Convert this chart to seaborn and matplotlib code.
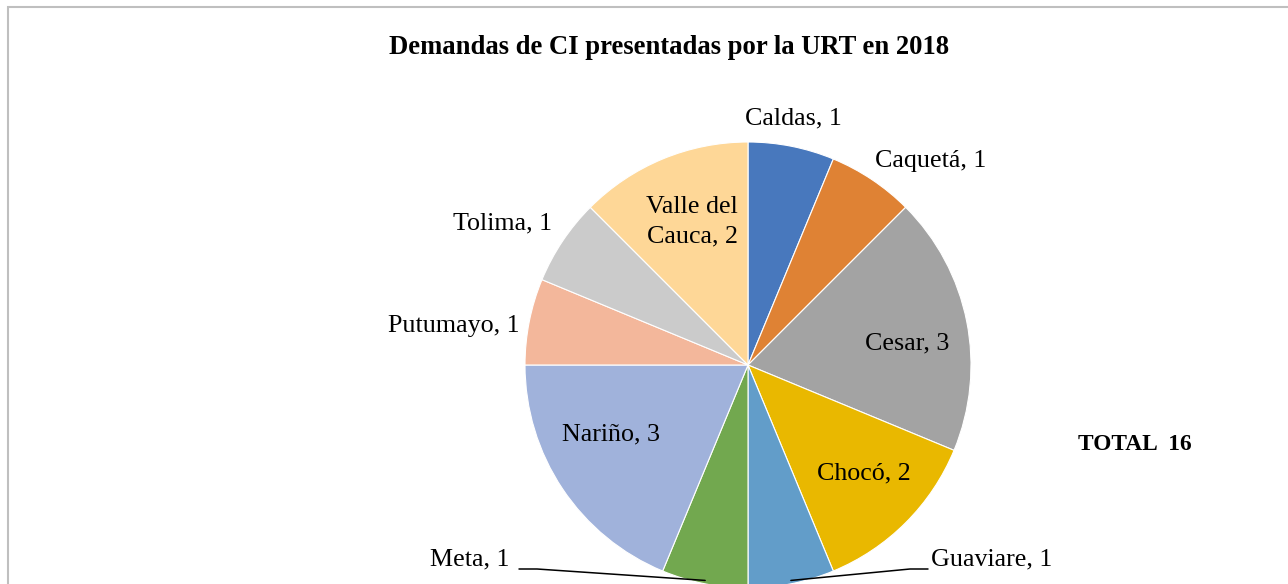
import numpy as np
import matplotlib
matplotlib.use("Agg")
import matplotlib.pyplot as plt
import seaborn as sns

# Datos: demandas por departamento
departamentos = ["Caldas", "Caquetá", "Cesar", "Chocó", "Guaviare",
                 "Meta", "Nariño", "Putumayo", "Tolima", "Valle del\nCauca"]
demandas = [1, 1, 3, 2, 1, 1, 3, 1, 1, 2]
colores = ["#4878bd", "#df8234", "#a3a3a3", "#e9b800", "#629dc9",
           "#72a84f", "#a0b2db", "#f3b79b", "#cbcbcb", "#fed797"]
titulo = "Demandas de CI presentadas por la URT en 2018"
total = sum(demandas)

# Estilo
sns.set_theme(style="white")
plt.rcParams['font.family'] = ['Liberation Serif', 'DejaVu Serif']
plt.rcParams['text.color'] = 'black'

W, H = 1288, 584
fig = plt.figure(figsize=(W / 100, H / 100), dpi=100)
ax = fig.add_axes([0, 0, 1, 1])

# Geometría en píxeles (y hacia arriba)
cx, cy, R = 748, H - 365, 223

wedges, _ = ax.pie(demandas, colors=sns.color_palette(colores), startangle=90,
                   counterclock=False, center=(cx, cy), radius=R,
                   wedgeprops=dict(linewidth=0.8, edgecolor="white"))

ax.set_xlim(0, W)
ax.set_ylim(0, H)
ax.set_axis_off()

# Posiciones de etiquetas (px desde arriba)
pos_etiquetas = [(793, 118), (931, 161), (907, 343), (864, 473), (992, 559),
                 (470, 559), (611, 434), (454, 326), (503, 223), (692, 222)]
con_guia = {"Guaviare": 910, "Meta": 537}

for w, dep, n, (px, py) in zip(wedges, departamentos, demandas, pos_etiquetas):
    ax.text(px, H - py, f"{dep}, {n}", ha="center", va="center",
            fontsize=18.7, color="black", linespacing=1.45)
    if dep in con_guia:
        ang = np.deg2rad((w.theta1 + w.theta2) / 2)
        ex, ey = cx + 0.985 * R * np.cos(ang), cy + 0.985 * R * np.sin(ang)
        codo = con_guia[dep]
        extremo = codo + (18 if dep == "Guaviare" else -18)
        ax.plot([ex, codo, extremo], [ey, H - 569, H - 569], color="black", lw=1.1)

ax.text(669, H - 47, titulo, ha="center", va="center", fontsize=19.2,
        fontweight="bold", color="black")
ax.text(1135, H - 444, f"TOTAL  {total}", ha="center", va="center",
        fontsize=16.8, fontweight="bold", color="black")

# Marco del gráfico
ax.plot([8.5, 8.5, W], [0, H - 6.5, H - 6.5], color="#bfbfbf", lw=1.5,
        solid_joinstyle="miter")

fig.savefig("out.png", dpi=100, facecolor="white")
